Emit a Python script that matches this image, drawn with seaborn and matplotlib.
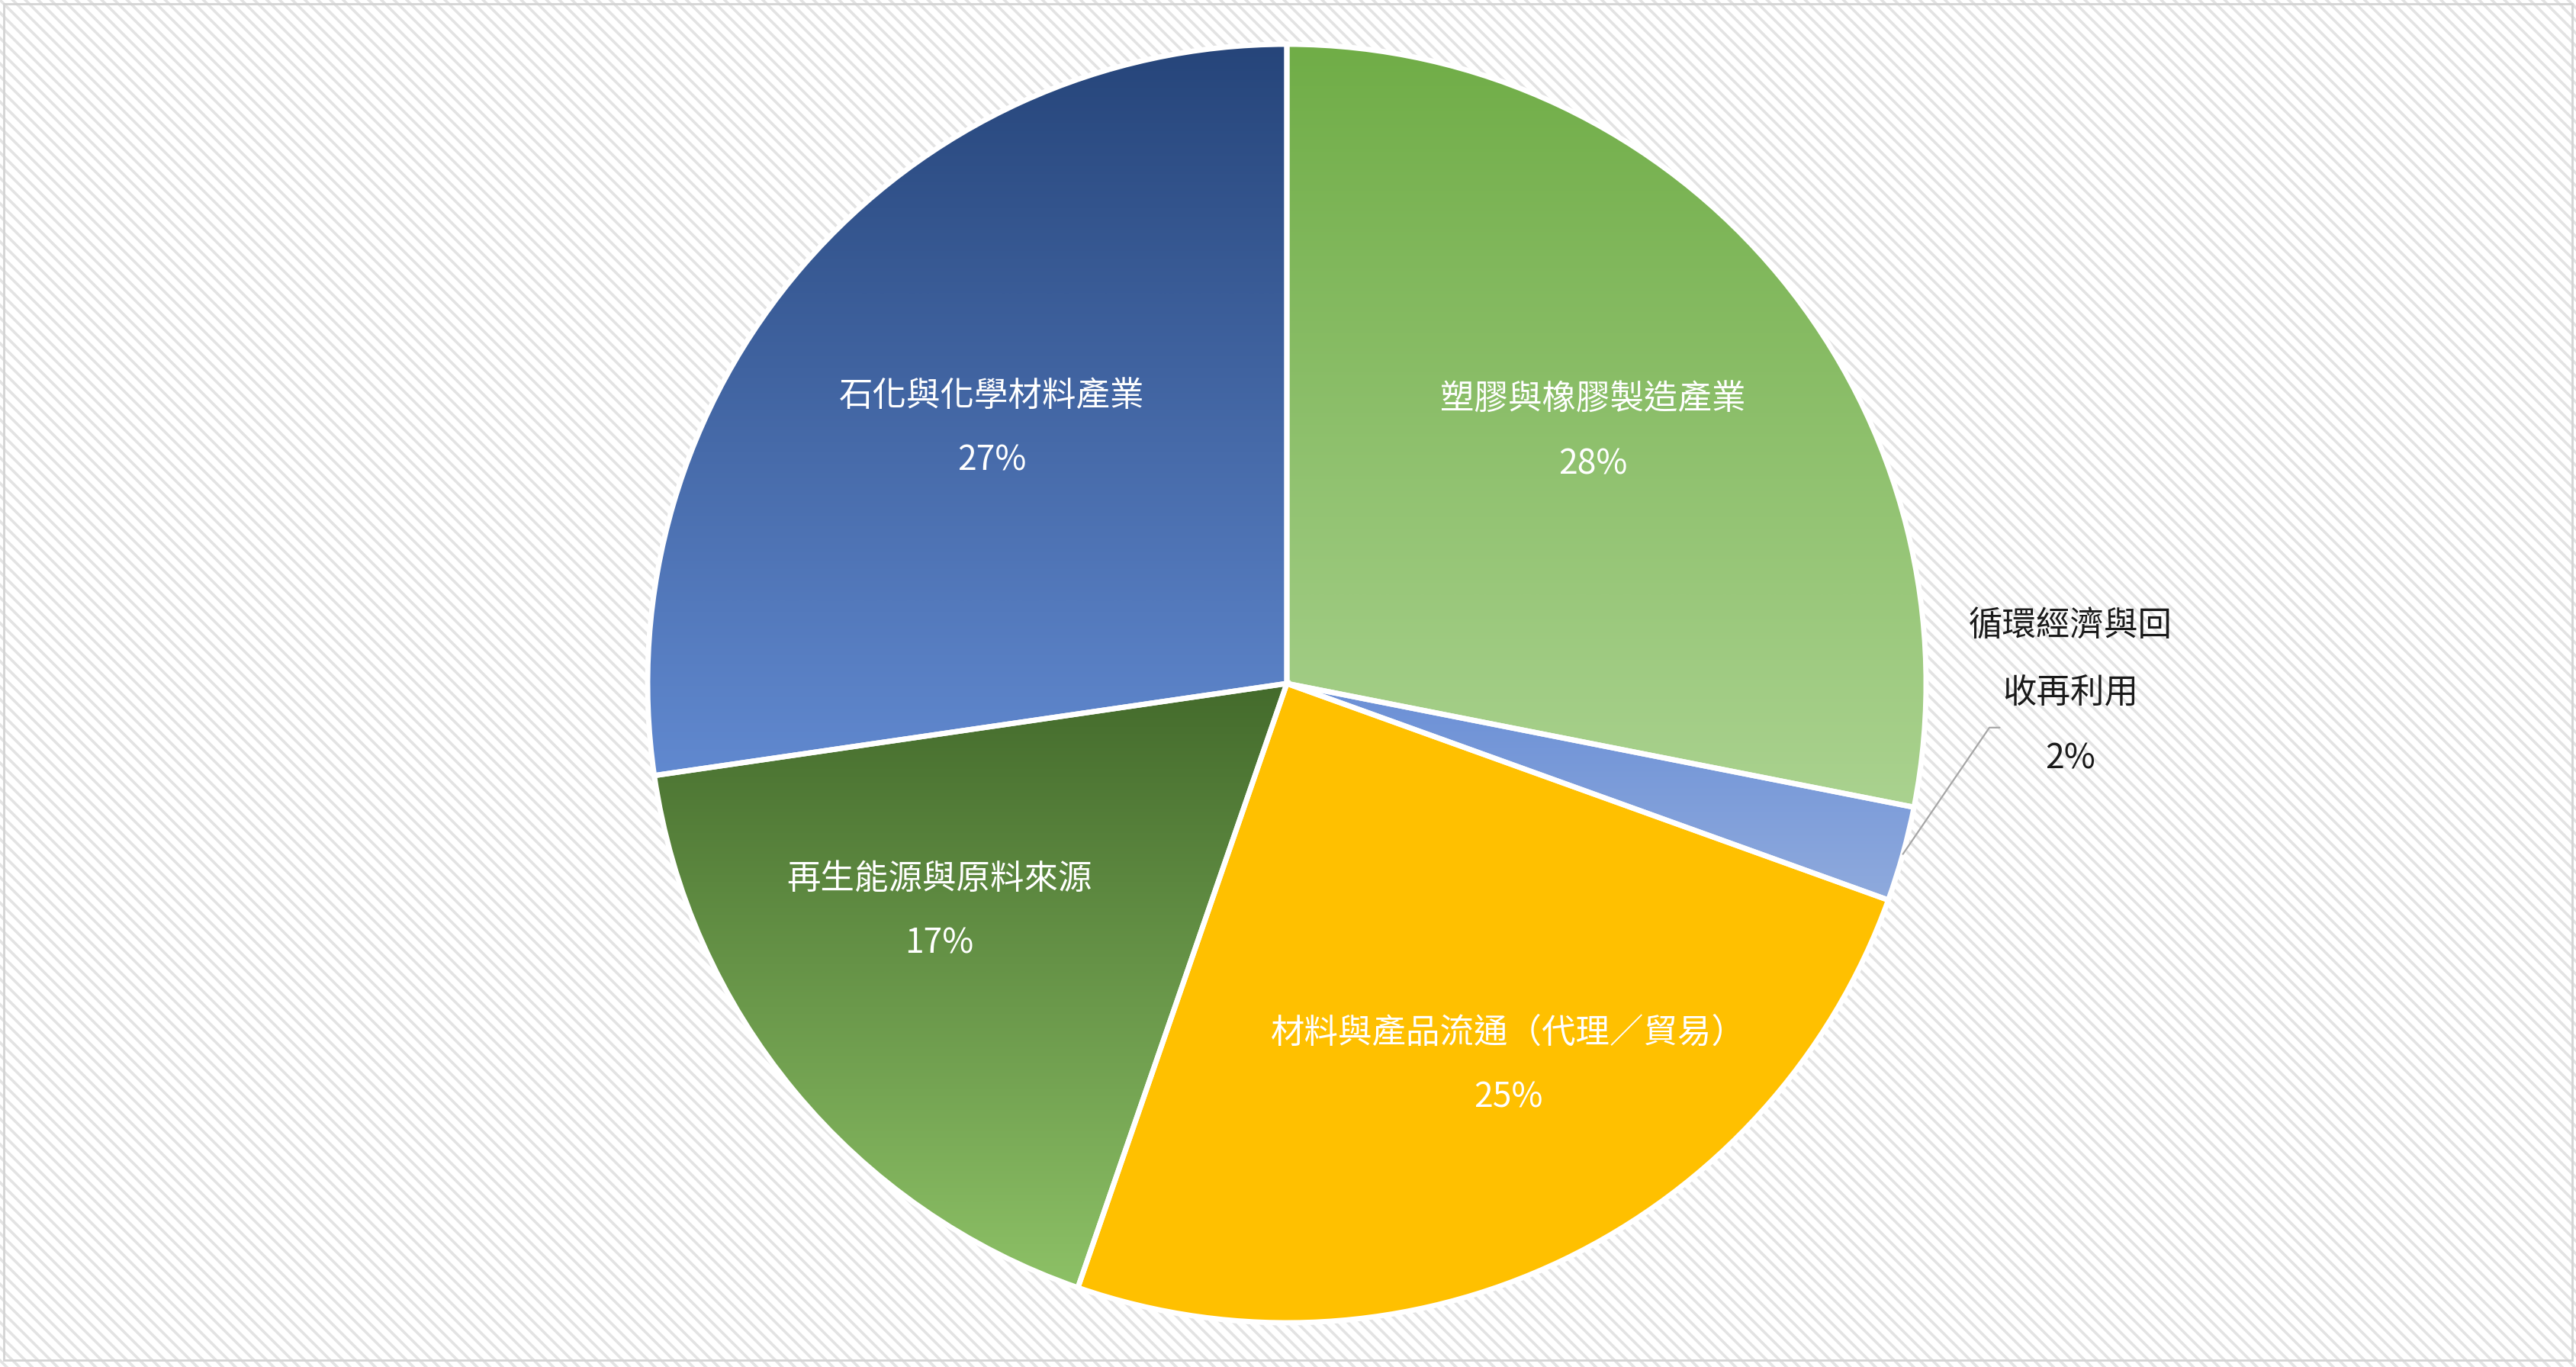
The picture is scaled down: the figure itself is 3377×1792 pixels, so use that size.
import numpy as np
import pandas as pd
import seaborn as sns
import matplotlib.pyplot as plt
from matplotlib.patches import Rectangle, Wedge

# 資料
categories = ["塑膠與橡膠製造產業", "循環經濟與回收再利用", "材料與產品流通（代理／貿易）",
              "再生能源與原料來源", "石化與化學材料產業"]
shares = [28.1, 2.4, 24.8, 17.4, 27.3]

# 每塊的漸層色 (上 -> 下)
grad_top = ["#70AD47", "#6A8FD6", "#FFC000", "#446B2C", "#26457A"]
grad_bottom = ["#AAD28F", "#8FAADD", "#FFC000", "#8DC166", "#6189D0"]

df = pd.DataFrame({"category": categories, "share": shares})

sns.set_theme(style="white")
plt.rcParams["font.family"] = ["Noto Sans CJK TC", "DejaVu Sans"]
plt.rcParams["hatch.linewidth"] = 2.6

W, H = 3377, 1792
fig = plt.figure(figsize=(W / 100, H / 100), dpi=100)
fig.patch.set_facecolor("white")

# 斜線背景與外框
bg = Rectangle((0, 0), 1, 1, transform=fig.transFigure, facecolor="white",
               edgecolor="#E3E3E3", hatch="\\\\", linewidth=0, zorder=-2)
fig.patches.append(bg)
frame = Rectangle((5 / W, 9 / H), (W - 10) / W, (H - 14) / H, transform=fig.transFigure,
                  facecolor="none", edgecolor="#D4D4D4", linewidth=2, zorder=-1)
fig.patches.append(frame)

ax = fig.add_axes([0, 0, 1, 1])
ax.set_facecolor("none")

wedges, _ = ax.pie(df["share"], startangle=90, counterclock=False,
                   colors=grad_top, radius=1.0,
                   wedgeprops=dict(edgecolor="white", linewidth=0))

# 每塊加上垂直漸層
for i, w in enumerate(wedges):
    ext = w.get_path().get_extents()
    cmap = sns.blend_palette([grad_top[i], grad_bottom[i]], as_cmap=True)
    grad = np.linspace(0, 1, 256).reshape(-1, 1)
    im = ax.imshow(grad, extent=[ext.x0, ext.x1, ext.y0, ext.y1], origin="upper",
                   cmap=cmap, aspect="auto", zorder=2, interpolation="bicubic")
    im.set_clip_path(w)
    edge = Wedge(w.center, w.r, w.theta1, w.theta2, facecolor="none",
                 edgecolor="white", linewidth=5, zorder=3)
    ax.add_patch(edge)

total = df["share"].sum()
pcts = [f"{v / total * 100:.0f}%" for v in df["share"]]

# 標籤位置微調 (半徑, 角度偏移)
lab_r = [0.62, None, 0.69, 0.65, 0.61]
lab_da = [0, 0, 4.6, -6.4, 0]
line_gap = 0.101
fs = 32

for i, w in enumerate(wedges):
    mid = np.deg2rad((w.theta1 + w.theta2) / 2 + lab_da[i])
    if lab_r[i] is None:
        continue
    x, y = lab_r[i] * np.cos(mid), lab_r[i] * np.sin(mid)
    ax.text(x, y + line_gap / 2, categories[i], ha="center", va="center",
            color="white", fontsize=fs, zorder=5)
    ax.text(x, y - line_gap / 2, pcts[i], ha="center", va="center",
            color="white", fontsize=fs, zorder=5)

# 小塊 (2%) 放外面加引線
w = wedges[1]
mid = np.deg2rad((w.theta1 + w.theta2) / 2)
px, py = np.cos(mid), np.sin(mid)
ex, ey = 1.099, -0.069
ax.plot([px, ex, ex + 0.016], [py, ey, ey], color="#A6A6A6", linewidth=1.6, zorder=4)
name = categories[1]
lines = [name[:6], name[6:], pcts[1]]
lx, ly = 1.226, -0.013
for k, t in enumerate(lines):
    ax.text(lx, ly + (1 - k) * 0.104, t, ha="center", va="center",
            color="#1A1A1A", fontsize=fs, zorder=5)

cx, cy, R = 1687, 896, 838
ax.set_xlim(-cx / R, (W - cx) / R)
ax.set_ylim(-(H - cy) / R, cy / R)
ax.set_aspect("auto")
ax.axis("off")

fig.savefig("out.png", dpi=100)
